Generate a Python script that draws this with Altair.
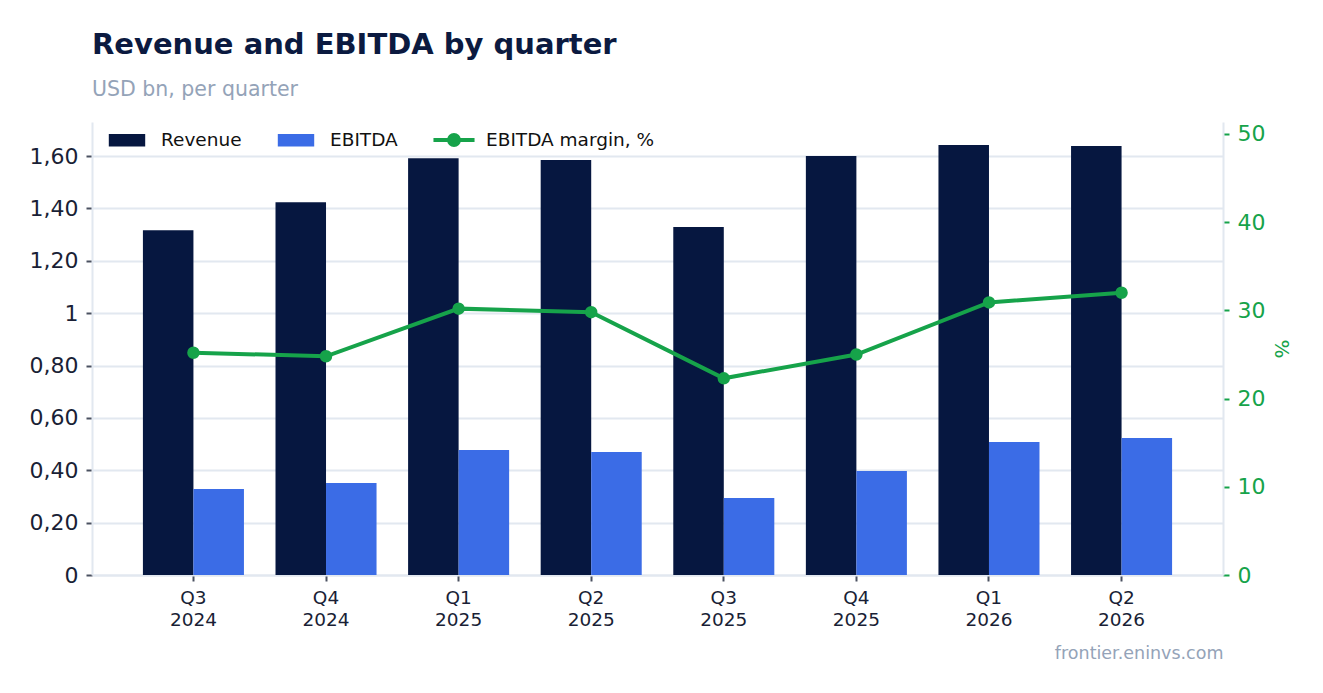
import altair as alt
import pandas as pd

quarters = ["Q3 2024", "Q4 2024", "Q1 2025", "Q2 2025", "Q3 2025", "Q4 2025", "Q1 2026", "Q2 2026"]
revenue = [1.317, 1.424, 1.592, 1.585, 1.329, 1.600, 1.642, 1.638]
ebitda = [0.328, 0.351, 0.477, 0.470, 0.294, 0.397, 0.508, 0.523]
margin = [25.2, 24.8, 30.2, 29.8, 22.3, 25.0, 30.9, 32.0]
left_ticks = [0, 0.2, 0.4, 0.6, 0.8, 1.0, 1.2, 1.4, 1.6]
right_ticks = [0, 10, 20, 30, 40, 50]

NAVY = "#061740"
BLUE = "#3b6ce6"
GREEN = "#16a34a"
GRID = "#e2e8f0"
TEXT = "#1a1f36"
MUTED = "#94a3b8"
FONT = "DejaVu Sans"

df = pd.DataFrame({"quarter": quarters, "Revenue": revenue, "EBITDA": ebitda, "margin": margin})

x_enc = alt.X(
    "quarter:N",
    sort=quarters,
    scale=alt.Scale(paddingInner=0.238, paddingOuter=0.384),
    axis=alt.Axis(
        title="frontier.eninvs.com",
        titleAnchor="end",
        titleColor=MUTED,
        titleFontWeight="normal",
        titleFontSize=17.5,
        titleFont=FONT,
        titlePadding=16,
        labelExpr="split(datum.label, ' ')",
        labelAngle=0,
        labelFontSize=18.5,
        labelColor=TEXT,
        labelLineHeight=22,
        labelPadding=7,
        tickColor="#4a5160",
        tickSize=6,
        tickWidth=2,
        domainColor=GRID,
        domainWidth=2,
        grid=False,
    ),
)

bars = (
    alt.Chart(df)
    .transform_fold(["Revenue", "EBITDA"], as_=["series", "value"])
    .mark_bar()
    .encode(
        x=x_enc,
        xOffset=alt.XOffset("series:N", sort=["Revenue", "EBITDA"],
                            scale=alt.Scale(paddingInner=0, paddingOuter=0)),
        y=alt.Y(
            "value:Q",
            scale=alt.Scale(domain=[0, 1.73], nice=False),
            axis=alt.Axis(
                title=None,
                values=left_ticks,
                labelExpr="datum.value == 0 ? '0' : (abs(datum.value - 1) < 0.001 ? '1' : replace(format(datum.value, '.2f'), '.', ','))",
                labelFontSize=22,
                labelColor=TEXT,
                labelPadding=8,
                tickColor="#4a5160",
                tickSize=6,
                tickWidth=2,
                domainColor=GRID,
                domainWidth=2,
                gridColor=GRID,
                gridWidth=2,
            ),
        ),
        color=alt.Color(
            "series:N",
            scale=alt.Scale(domain=["Revenue", "EBITDA"], range=[NAVY, BLUE]),
            legend=alt.Legend(
                title=None,
                orient="none",
                legendX=22,
                legendY=5,
                direction="horizontal",
                symbolType="M-1.4,-0.48H1.4V0.48H-1.4Z",
                symbolSize=676,
                symbolStrokeWidth=0,
                labelFontSize=18.5,
                labelColor="#111111",
                labelOffset=21,
                columnPadding=35,
                padding=0,
            ),
        ),
    )
)

line = (
    alt.Chart(df)
    .transform_calculate(lbl="'EBITDA margin, %'")
    .mark_line(strokeWidth=4, point=alt.OverlayMarkDef(filled=True, size=110, fill=GREEN, color=GREEN))
    .encode(
        x=alt.X("quarter:N", sort=quarters),
        y=alt.Y(
            "margin:Q",
            scale=alt.Scale(domain=[0, 51.36], nice=False),
            axis=alt.Axis(
                orient="right",
                title="%",
                titleColor=GREEN,
                titleFontSize=20,
                titleFontWeight="normal",
                titlePadding=6,
                values=right_ticks,
                labelFontSize=22,
                labelColor=GREEN,
                labelPadding=8,
                tickColor=GREEN,
                tickSize=6,
                tickWidth=2,
                domainColor=GRID,
                domainWidth=2,
                grid=False,
            ),
        ),
        stroke=alt.Stroke(
            "lbl:N",
            scale=alt.Scale(domain=["EBITDA margin, %"], range=[GREEN]),
            legend=alt.Legend(
                title=None,
                orient="none",
                legendX=347,
                legendY=3,
                direction="horizontal",
                symbolType="M-1.58,0H1.58M0.38,0A0.38,0.38,0,1,1,-0.38,0A0.38,0.38,0,1,1,0.38,0",
                symbolSize=676,
                symbolStrokeWidth=4,
                symbolFillColor=GREEN,
                labelFontSize=18.5,
                labelColor="#111111",
                labelOffset=17,
                labelLimit=400,
                padding=0,
            ),
        ),
    )
)

chart = (
    alt.layer(bars, line)
    .resolve_scale(y="independent", color="independent", stroke="independent")
    .properties(
        width=1131,
        height=453,
        padding={"left": 84, "top": 114, "right": 90, "bottom": 100},
        autosize=alt.AutoSizeParams(type="none"),
        title=alt.TitleParams(
            text="Revenue and EBITDA by quarter",
            subtitle="USD bn, per quarter",
            anchor="start",
            frame="group",
            fontSize=29,
            fontWeight="bold",
            color="#0b1a40",
            subtitleFontSize=20.5,
            subtitleColor=MUTED,
            subtitlePadding=20,
            offset=22,
            font=FONT,
            subtitleFont=FONT,
        ),
    )
    .configure(font=FONT)
    .configure_view(strokeOpacity=0)
    .configure_axis(labelFont=FONT, titleFont=FONT)
    .configure_legend(labelFont=FONT)
)

chart.save("out.html", embed_options={"renderer": "svg", "actions": False})
